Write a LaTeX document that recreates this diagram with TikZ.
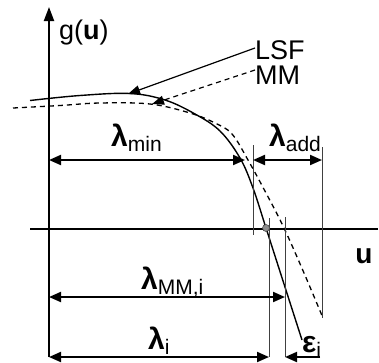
\documentclass[tikz,border=0pt]{standalone}
\usepackage{fontspec}
\setmainfont{Liberation Sans}
\usetikzlibrary{arrows.meta}
\newcommand\glab[2]{{\fontsize{30}{30}\selectfont\bfseries #1}\raisebox{-5pt}{\fontsize{21}{21}\selectfont #2}}
\tikzset{
  axis/.style={line width=2pt},
  dimarrow/.style={line width=2pt,{Triangle[length=12pt,width=10pt]}-{Triangle[length=12pt,width=10pt]}},
  onearrow/.style={line width=2pt,-{Triangle[length=12pt,width=10pt]}},
  ptr/.style={line width=1.2pt,-{Triangle[length=12pt,width=9pt]}},
  guide/.style={line width=1pt,black!75},
  lsf/.style={line width=1.4pt},
  mm/.style={line width=1.3pt,dash pattern=on 5pt off 4pt},
  lab/.style={inner sep=0pt,anchor=base west},
  big/.style={font=\fontsize{27}{27}\selectfont},
}
\begin{document}
\begin{tikzpicture}[x=1pt,y=-1pt]
\useasboundingbox (0,0) rectangle (379,362);
% axes
\coordinate (ybot) at (49,357);
\coordinate (ytop) at (49,7);
\coordinate (xl) at (30,229);
\coordinate (xr) at (378,229);
\draw[axis,-{Triangle[length=14pt,width=10pt]}] (ybot) -- (ytop);
\draw[axis] (xl) -- (xr);
% curves
\draw[lsf] plot[smooth,tension=0.6] coordinates {(30,100.5) (80,95.5) (130,93.5) (165,100) (195,114) (220,131) (240,158) (253,188) (266,228) (284,284) (302,340)};
\draw[mm] plot[smooth,tension=0.6] coordinates {(13,108) (60,105.5) (100,103) (150,104) (190,113) (215,123) (232,134) (248,160) (266,193) (284,228) (304,273) (323,318)};
% guide lines
\coordinate (a1) at (253,145); \coordinate (a2) at (253,235);
\coordinate (b1) at (322,147); \coordinate (b2) at (322,318);
\coordinate (c1) at (269,218); \coordinate (c2) at (269,357);
\coordinate (d1) at (285,217); \coordinate (d2) at (285,357);
\draw[guide] (a1) -- (a2);
\draw[guide] (b1) -- (b2);
\draw[guide] (c1) -- (c2);
\draw[guide] (d1) -- (d2);
% zero point
\node[circle,fill=black!45,draw=black!70,line width=0.6pt,minimum size=7pt,inner sep=0pt] (z) at (266,228) {};
% dimension arrows
\coordinate (m0) at (49,160); \coordinate (m1) at (245,160);
\coordinate (ad0) at (253,160); \coordinate (ad1) at (322,160);
\coordinate (mm0) at (49,297); \coordinate (mm1) at (285,297);
\coordinate (i0) at (49,357); \coordinate (i1) at (269,357);
\coordinate (e0) at (320,357); \coordinate (e1) at (285,357);
\draw[dimarrow] (m0) -- (m1);
\draw[dimarrow] (ad0) -- (ad1);
\draw[dimarrow] (mm0) -- (mm1);
\draw[dimarrow] (i0) -- (i1);
\draw[onearrow] (e0) -- (e1);
% labels
\node[lab,big] (g) at (59,39) {g(\textbf{u})};
\node[lab,big] (lsflab) at (255,59) {LSF};
\node[lab,big] (mmlab) at (255,84) {MM};
\node[inner sep=0pt,anchor=base,font=\fontsize{28}{28}\selectfont\bfseries] (ulab) at (364,263) {u};
\node[lab] (lmin) at (111,146) {\glab{λ}{min}};
\node[lab] (ladd) at (269,146) {\glab{λ}{add}};
\node[lab] (lmm) at (141,289) {\glab{λ}{MM,i}};
\node[lab] (li) at (148,349) {\glab{λ}{i}};
\node[lab] (ei) at (302,352) {\glab{ε}{i}};
% pointers
\coordinate (p1) at (128,94);
\coordinate (p2) at (152,104);
\draw[ptr] (lsflab.west |- 0,48) -- (p1);
\draw[ptr,dash pattern=on 5pt off 4pt] (mmlab.west |- 0,70) -- (p2);
\end{tikzpicture}
\end{document}
